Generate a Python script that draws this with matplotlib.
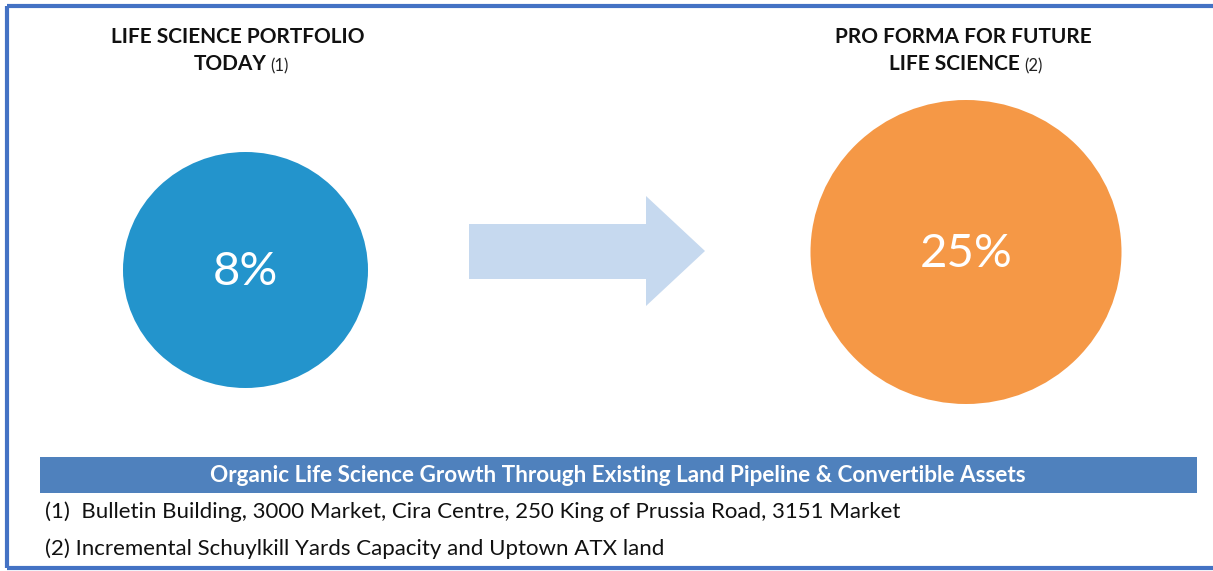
import matplotlib.pyplot as plt
from matplotlib.patches import Ellipse, Rectangle, Polygon

# chart content
shares = [8, 25]
share_labels = ["8%", "25%"]
titles = ["LIFE SCIENCE PORTFOLIO\nTODAY", "PRO FORMA FOR FUTURE\nLIFE SCIENCE"]
title_notes = ["(1)", "(2)"]
circle_colors = ["#2394cc", "#f59846"]
banner_text = "Organic Life Science Growth Through Existing Land Pipeline & Convertible Assets"
footnotes = ["(1)  Bulletin Building, 3000 Market, Cira Centre, 250 King of Prussia Road, 3151 Market",
             "(2) Incremental Schuylkill Yards Capacity and Uptown ATX land"]

W, H = 1213, 571
plt.rcParams['font.family'] = ['Lato', 'DejaVu Sans']

fig = plt.figure(figsize=(W / 100, H / 100), dpi=100)
ax = fig.add_axes([0, 0, 1, 1])
ax.set_xlim(0, W)
ax.set_ylim(H, 0)
ax.axis("off")
rend = fig.canvas.get_renderer()

# frame (right side cut off in the original)
frame_col = "#4472c4"
ax.plot([7, 7], [6, 568], color=frame_col, lw=3, solid_capstyle="butt")
ax.plot([7, W], [6, 6], color=frame_col, lw=3, solid_capstyle="butt")
ax.plot([7, W], [568, 568], color=frame_col, lw=3, solid_capstyle="butt")

# circles
centers = [(245.5, 270), (966, 252)]
sizes = [(245, 236), (311, 304)]
title_x = [238, 963]
for i in range(len(shares)):
    cx, cy = centers[i]
    ax.add_patch(Ellipse((cx, cy), sizes[i][0], sizes[i][1], color=circle_colors[i], lw=0))
    ax.text(cx, cy + 2, share_labels[i], color="white", fontsize=34, ha="center", va="center")
    l1, l2 = titles[i].split("\n")
    ax.text(title_x[i], 37, l1, fontsize=15, fontweight="bold", ha="center", va="center", color="#111111")
    # second line: bold part + small note, centred together
    t1 = ax.text(0, 64, l2, fontsize=15, fontweight="bold", ha="left", va="center", color="#111111")
    t2 = ax.text(0, 66, title_notes[i], fontsize=12, ha="left", va="center", color="#222222")
    w1 = t1.get_window_extent(rend).width
    w2 = t2.get_window_extent(rend).width
    gap = 4
    x0 = title_x[i] + 3 - (w1 + gap + w2) / 2
    t1.set_x(x0)
    t2.set_x(x0 + w1 + gap)

# arrow
arrow = Polygon([(469, 224), (646, 224), (646, 196), (705, 251), (646, 306), (646, 279), (469, 279)],
                closed=True, color="#c6d9ef", lw=0)
ax.add_patch(arrow)

# banner
ax.add_patch(Rectangle((40, 457), 1157, 36, color="#4f81bd", lw=0))
ax.text(618, 475.5, banner_text, color="white", fontsize=16.2, fontweight="bold", ha="center", va="center")

ax.text(45, 512, footnotes[0], fontsize=16, ha="left", va="center", color="#111111")
ax.text(45, 549, footnotes[1], fontsize=16, ha="left", va="center", color="#111111")

fig.savefig("out.png", dpi=100)
